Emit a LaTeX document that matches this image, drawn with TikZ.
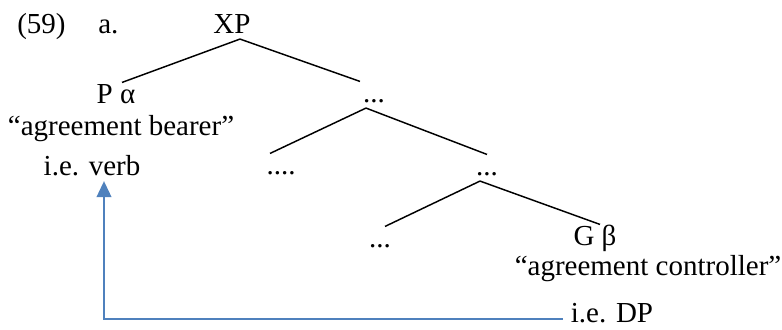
\documentclass[tikz,border=0pt]{standalone}
\usepackage{fontspec}
\setmainfont{Liberation Serif}
\usetikzlibrary{positioning, arrows.meta}
\definecolor{agrblue}{RGB}{79,129,189}

\begin{document}
\begin{tikzpicture}[x=0.75pt, y=-0.75pt,
  word/.style={inner sep=0pt, text height=0.7em, text depth=0.2em},
  branch/.style={line width=1.1pt},
  agr/.style={draw=agrblue, line width=1.5pt, -{Triangle[length=12pt, width=11pt]}}]
\fontsize{21.75}{26}\selectfont
\useasboundingbox (0,0) rectangle (782,329);
\node[word, anchor=base west] (exnum) at (17,33) {(59)};
\node[word, anchor=base west] (exlet) at (98,33) {a.};
\node[word, anchor=base] (xp) at (232,33) {XP};
\node[word, anchor=base] (palpha) at (116,103) {P α};
\node[word, below=4.4pt of palpha, xshift=3.75pt] (bearer) {``agreement bearer''};
\node[word, below=9.7pt of bearer, xshift=-21.75pt] (ieverb) {i.e. verb};
\node[word, anchor=base] (dots1) at (374,102) {...};
\node[word, anchor=base] (dots4) at (281,174) {....};
\node[word, anchor=base] (dots2) at (487,175) {...};
\node[word, anchor=base] (dots3) at (380,247) {...};
\node[word, anchor=base] (gbeta) at (595,245) {G β};
\node[word, below=2.9pt of gbeta, xshift=39.75pt] (controller) {``agreement controller''};
\node[word, text depth=0pt, below=15.2pt of controller, xshift=-27pt] (iedp) {i.e. DP};

% tree
\draw[branch] ([xshift=6pt]xp.south) -- ([xshift=4.5pt]palpha.north);
\draw[branch] ([xshift=6pt]xp.south) -- ([xshift=-10.5pt]dots1.north);
\draw[branch] ([xshift=-6pt]dots1.south) -- ([xshift=-8.25pt]dots4.north);
\draw[branch] ([xshift=-6pt]dots1.south) -- (dots2.north);
\draw[branch] ([xshift=-5.25pt]dots2.south) -- ([xshift=3.75pt]dots3.north);
\draw[branch] ([xshift=-5.25pt]dots2.south) -- ([xshift=3.75pt]gbeta.north);

% agreement
\draw[agr] ([xshift=-6pt,yshift=-5.25pt]iedp.west) -| ([xshift=9pt]ieverb.south);
\end{tikzpicture}
\end{document}
